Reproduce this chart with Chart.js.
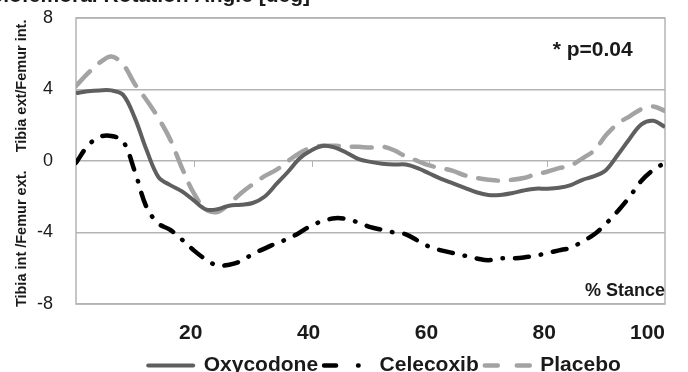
<!DOCTYPE html>
<html>
<head>
<meta charset="utf-8">
<script src="https://cdn.jsdelivr.net/npm/chart.js@4.4.1/dist/chart.umd.min.js"></script>
<style>
    html, body { margin: 0; padding: 0; background: #fff; }
    #wrap { width: 688px; height: 372px; }
</style>
</head>
<body>
<div id="wrap"><canvas id="rotationChart"></canvas></div>
<script>
// % stance, sampled every 2%
var stance = [0, 2, 4, 6, 8, 10, 12, 14, 16, 18, 20, 22, 24, 26, 28, 30, 32, 34, 36, 38, 40,
    42, 44, 46, 48, 50, 52, 54, 56, 58, 60, 62, 64, 66, 68, 70, 72, 74, 76, 78, 80,
    82, 84, 86, 88, 90, 92, 94, 96, 98, 100];

var oxycodone = [3.8, 3.9, 3.95, 3.95, 3.7, 2.4, 0.6, -0.9, -1.35, -1.7, -2.2, -2.7, -2.7, -2.5, -2.45, -2.35, -2.0, -1.3, -0.6, 0.15, 0.6,
    0.85, 0.75, 0.45, 0.1, -0.05, -0.15, -0.2, -0.2, -0.4, -0.7, -1.0, -1.25, -1.5, -1.75, -1.9, -1.9, -1.8, -1.65, -1.55, -1.55,
    -1.5, -1.35, -1.05, -0.85, -0.5, 0.35, 1.25, 2.05, 2.25, 1.9];

var celecoxib = [-0.1, 0.85, 1.35, 1.4, 1.1, -0.6, -2.6, -3.5, -3.85, -4.4, -5.0, -5.5, -5.85, -5.8, -5.6, -5.2, -4.9, -4.6, -4.35, -4.0, -3.6,
    -3.35, -3.2, -3.25, -3.45, -3.7, -3.85, -4.0, -4.1, -4.45, -4.8, -5.0, -5.15, -5.3, -5.45, -5.55, -5.45, -5.45, -5.4, -5.3, -5.15,
    -5.0, -4.85, -4.5, -4.1, -3.5, -2.8, -2.0, -1.1, -0.5, -0.1];

var placebo = [4.2, 4.9, 5.5, 5.85, 5.4, 4.3, 3.4, 2.4, 1.2, -0.4, -1.8, -2.7, -2.85, -2.4, -1.8, -1.3, -0.85, -0.5, 0.0, 0.45, 0.75,
    0.85, 0.85, 0.8, 0.8, 0.75, 0.8, 0.6, 0.25, 0.0, -0.25, -0.4, -0.55, -0.8, -0.95, -1.05, -1.1, -1.05, -0.95, -0.75, -0.6,
    -0.4, -0.25, 0.15, 0.6, 1.45, 2.1, 2.5, 2.9, 3.05, 2.8];

var xTicks = [20, 40, 60, 80, 100];
var xTickLabels = ['20', '40', '60', '80', '100'];
var yTicks = [-8, -4, 0, 4, 8];

// dash patterns used for the legend samples
var legendDash = [[], [12, 22, 0.5, 40], [13, 19]];

function points(values) {
    return values.map(function (v, i) {
        return { x: stance[i], y: v };
    });
}

var font = "'Liberation Sans', Arial, sans-serif";

var decorations = {
    id: 'decorations',
    afterLayout: function (chart) {
        // the legend in the original sits right of centre and a bit lower
        var lg = chart.legend;
        lg.left += 52;
        lg.right += 52;
        lg.top += 14;
        lg.bottom += 14;
    },
    beforeDatasetsDraw: function (chart) {
        var ctx = chart.ctx, a = chart.chartArea, x = chart.scales.x, y = chart.scales.y;
        ctx.save();
        ctx.strokeStyle = '#b4b4b4';
        ctx.lineWidth = 1.5;
        ctx.strokeRect(a.left, a.top, a.right - a.left, a.bottom - a.top);
        // small tick marks on the zero line
        var y0 = y.getPixelForValue(0);
        ctx.lineWidth = 1;
        xTicks.forEach(function (v) {
            var px = Math.round(x.getPixelForValue(v)) + 0.5;
            ctx.beginPath();
            ctx.moveTo(px, y0);
            ctx.lineTo(px, y0 + 6);
            ctx.stroke();
        });
        ctx.restore();
    },
    afterDraw: function (chart) {
        var ctx = chart.ctx, a = chart.chartArea, x = chart.scales.x, y = chart.scales.y;
        var w = a.right - a.left;
        ctx.save();
        ctx.fillStyle = '#1a1a1a';

        // x tick labels, last one kept inside the frame
        ctx.font = 'bold 21px ' + font;
        ctx.textBaseline = 'middle';
        xTickLabels.forEach(function (t, i) {
            var last = i === xTickLabels.length - 1;
            ctx.textAlign = last ? 'right' : 'center';
            ctx.fillText(t, last ? a.right : x.getPixelForValue(xTicks[i]) - 3, a.bottom + 29);
        });

        // annotations inside the plot
        ctx.textAlign = 'right';
        ctx.fillText('* p=0.04', a.left + w * 0.945, y.getPixelForValue(6.2));
        ctx.font = 'bold 18px ' + font;
        ctx.fillText('% Stance', a.right, y.getPixelForValue(-7.3));

        // y axis titles (two halves)
        ctx.font = 'bold 14.5px ' + font;
        ctx.textAlign = 'center';
        [['Tibia ext/Femur int.', 4.2], ['Tibia int /Femur ext.', -4.35]].forEach(function (t) {
            ctx.save();
            ctx.translate(22, y.getPixelForValue(t[1]));
            ctx.rotate(-Math.PI / 2);
            ctx.fillText(t[0], 0, 0);
            ctx.restore();
        });

        // figure title, cut off by the top edge
        ctx.font = 'bold 21px ' + font;
        ctx.textAlign = 'right';
        ctx.textBaseline = 'alphabetic';
        ctx.fillText('Tibiofemoral Rotation Angle [deg]', 310, 2);
        ctx.restore();
    }
};

var ctx = document.getElementById('rotationChart').getContext('2d');
var rotationChart = new Chart(ctx, {
    type: 'line',
    data: {
        datasets: [{
            label: 'Oxycodone',
            data: points(oxycodone),
            borderColor: '#5f5f5f',
            backgroundColor: '#5f5f5f',
            borderWidth: 4,
            pointRadius: 0,
            tension: 0.35
        }, {
            label: 'Celecoxib',
            data: points(celecoxib),
            borderColor: '#000000',
            backgroundColor: '#000000',
            borderWidth: 4.5,
            borderDash: [14, 12, 0.5, 12],
            borderCapStyle: 'round',
            pointRadius: 0,
            tension: 0.35
        }, {
            label: 'Placebo',
            data: points(placebo),
            borderColor: '#a3a3a3',
            backgroundColor: '#a3a3a3',
            borderWidth: 4.5,
            borderDash: [20, 13],
            borderCapStyle: 'round',
            pointRadius: 0,
            tension: 0.35
        }]
    },
    options: {
        responsive: true,
        maintainAspectRatio: false,
        animation: false,
        layout: {
            padding: { top: 18, right: 23, left: 0, bottom: 0 }
        },
        scales: {
            x: {
                type: 'linear',
                min: 0,
                max: 100,
                ticks: { display: false },
                grid: { display: false },
                border: { display: false },
                afterFit: function (scale) { scale.height = 31; }
            },
            y: {
                min: -8,
                max: 8,
                afterBuildTicks: function (scale) {
                    scale.ticks = yTicks.map(function (v) { return { value: v }; });
                },
                ticks: {
                    color: '#1a1a1a',
                    padding: 23,
                    font: { family: font, size: 18 }
                },
                grid: { color: '#b4b4b4', lineWidth: 1.5, drawTicks: false },
                border: { display: false },
                afterFit: function (scale) {
                    scale.width = 76;
                    scale.paddingTop = 0;
                    scale.paddingBottom = 0;
                }
            }
        },
        plugins: {
            legend: {
                position: 'bottom',
                labels: {
                    usePointStyle: true,
                    pointStyle: 'line',
                    pointStyleWidth: 45,
                    color: '#1a1a1a',
                    padding: 6,
                    font: { family: font, size: 21, weight: 'bold' },
                    generateLabels: function (chart) {
                        var items = Chart.defaults.plugins.legend.labels.generateLabels(chart);
                        items.forEach(function (item, i) {
                            item.lineDash = legendDash[i];
                            item.lineCap = 'round';
                        });
                        return items;
                    }
                }
            },
            tooltip: { enabled: false }
        }
    },
    plugins: [decorations]
});
</script>
</body>
</html>
